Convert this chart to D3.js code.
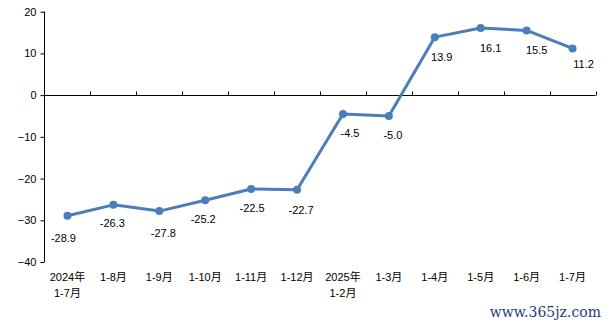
<!DOCTYPE html>
<html>
<head>
<meta charset="utf-8">
<script src="https://cdn.jsdelivr.net/npm/d3@7"></script>
<style>
  html, body { margin: 0; padding: 0; background: #fff; }
  svg { display: block; }
  text { font-family: "Liberation Sans", "Noto Sans CJK SC", sans-serif; fill: #000; }
</style>
</head>
<body>
<svg id="chart" width="612" height="328"></svg>
<script>
// Period labels (first line / second line)
const categories = ["2024年\n1-7月", "1-8月", "1-9月", "1-10月", "1-11月", "1-12月",
                    "2025年\n1-2月", "1-3月", "1-4月", "1-5月", "1-6月", "1-7月"];
// Cumulative year-on-year change, %
const values = [-28.9, -26.3, -27.8, -25.2, -22.5, -22.7, -4.5, -5.0, 13.9, 16.1, 15.5, 11.2];
const yTicks = [-40, -30, -20, -10, 0, 10, 20];

// Value label placement relative to each point [dx, dy]
const labelOffsets = [[-4, 22], [-1, 18], [4, 22], [-2, 19], [1, 19], [4, 20],
                      [7, 19], [4, 19], [7, 20], [10, 20], [10, 20], [11, 16]];

const svg = d3.select("#chart");
const plotLeft = 44.5, plotRight = 595.5, plotTop = 11.7, plotBottom = 262;

const x = d3.scaleBand().domain(categories).range([plotLeft, plotRight]).paddingInner(0).paddingOuter(0);
const y = d3.scaleLinear().domain([-40, 20]).range([plotBottom, plotTop]);
const cx = d => x(d) + x.bandwidth() / 2;

// Y axis
const yAxis = svg.append("g").attr("transform", `translate(${plotLeft},0)`)
  .call(d3.axisLeft(y).tickValues(yTicks).tickSize(4).tickSizeOuter(0).tickPadding(4).tickFormat(d3.format("d")));
yAxis.select(".domain").attr("stroke", "#000").attr("d", `M0,${plotBottom}V${plotTop}`);
yAxis.selectAll(".tick line").attr("stroke", "#000");
yAxis.selectAll(".tick text").attr("font-size", 11).attr("font-family", null);

// X axis along zero line, ticks at category boundaries pointing up
const y0 = Math.round(y(0)) + 0.5;
const xg = svg.append("g");
xg.append("line").attr("x1", plotLeft).attr("x2", plotRight).attr("y1", y0).attr("y2", y0).attr("stroke", "#000");
const bounds = categories.map(c => x(c)).slice(1).concat([plotRight]);
xg.selectAll("line.tk").data(bounds).enter().append("line").attr("class", "tk")
  .attr("x1", d => Math.round(d) + 0.5).attr("x2", d => Math.round(d) + 0.5)
  .attr("y1", y0).attr("y2", y0 - 4).attr("stroke", "#000");

// Category labels at the bottom
const cl = svg.append("g").selectAll("text").data(categories).enter().append("text")
  .attr("x", d => cx(d)).attr("y", 281).attr("text-anchor", "middle").attr("font-size", 11);
cl.each(function(d) {
  const parts = d.split("\n");
  d3.select(this).selectAll("tspan").data(parts).enter().append("tspan")
    .attr("x", cx(d)).attr("dy", (p, i) => i === 0 ? 0 : 16).text(p => p);
});

// Line and markers
const pts = categories.map((c, i) => [cx(c), y(values[i])]);
svg.append("path").datum(pts).attr("fill", "none").attr("stroke", "#4a7ebb")
  .attr("stroke-width", 3).attr("stroke-linejoin", "round").attr("d", d3.line());
svg.append("g").selectAll("circle").data(pts).enter().append("circle")
  .attr("cx", d => d[0]).attr("cy", d => d[1]).attr("r", 4).attr("fill", "#4a7ebb");

// Value labels
svg.append("g").selectAll("text").data(values).enter().append("text")
  .attr("x", (v, i) => pts[i][0] + labelOffsets[i][0])
  .attr("y", (v, i) => pts[i][1] + labelOffsets[i][1] + 4)
  .attr("text-anchor", "middle").attr("font-size", 11)
  .text(v => v.toFixed(1));

// Site mark
svg.append("text").attr("x", 601).attr("y", 317).attr("text-anchor", "end")
  .attr("font-size", 14).style("font-family", "DejaVu Serif")
  .style("fill", "#1f3f7a").text("www.365jz.com");
</script>
</body>
</html>
